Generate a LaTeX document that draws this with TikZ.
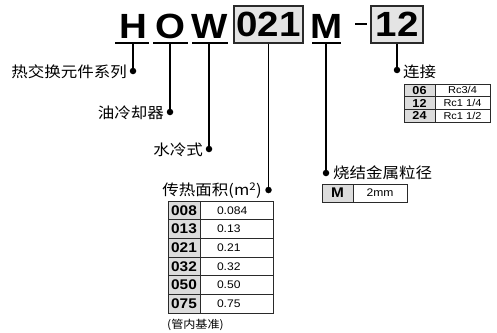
\documentclass[tikz,border=0pt]{standalone}
\usepackage{fontspec}
\setmainfont[FakeStretch=1.1]{Liberation Sans}
\newfontfamily\cjk[FakeStretch=1.1]{Noto Sans CJK SC}
\definecolor{boxgray}{HTML}{E4E4E4}
\definecolor{cellgray}{HTML}{DCDCDC}
\definecolor{edge}{HTML}{2A2A2A}
\begin{document}
\begin{tikzpicture}[x=1pt,y=-1pt,
  big/.style={font=\fontsize{35}{35}\selectfont\bfseries, inner sep=0pt},
  hdrbox/.style={draw=edge, line width=1.1pt, fill=boxgray, minimum height=37pt, inner sep=0pt, font=\fontsize{35}{35}\selectfont\bfseries},
  uline/.style={line width=1.3pt},
  conn/.style={line width=1.2pt},
  dotmark/.style={circle, fill=black, inner sep=0pt, minimum size=6.5pt},
  lab/.style={font=\cjk\fontsize{15}{17}\selectfont, inner sep=0pt},
  tcode/.style={draw=edge, fill=cellgray, line width=0.8pt, inner sep=0pt},
  tval/.style={draw=edge, line width=0.8pt, inner sep=0pt}
]
\useasboundingbox (0,0) rectangle (497,332);

% header letters
\node[big, anchor=base] (H) at (133.5,38) {H};
\node[big, anchor=base] (O) at (170,38) {O};
\node[big, anchor=base] (W) at (210,38) {W};
\node[hdrbox, minimum width=69pt] (c021) at (268.5,24.5) {021};
\node[big, anchor=base] (M) at (326.5,38) {M};
\node[inner sep=0pt] (dash) at (361,24) {\rule{12pt}{2.6pt}};
\node[hdrbox, minimum width=52pt] (c12) at (397,24.5) {12};

% underlines
\draw[uline] (115,43) -- (149,43);
\draw[uline] (153,43) -- (188,43);
\draw[uline] (192,43) -- (228,43);
\draw[uline] (312,43) -- (341,43);

% tick tops
\coordinate (Ht) at (133,43);
\coordinate (Ot) at (170,43);
\coordinate (Wt) at (209,43);
\coordinate (Mt) at (326,43);

% dots
\node[dotmark] (Hd) at (133,71) {};
\node[dotmark] (Od) at (170,112) {};
\node[dotmark] (Wd) at (209,149) {};
\node[dotmark] (Ad) at (268.5,190) {};
\node[dotmark] (Md) at (326,173) {};
\node[dotmark] (Cd) at (397,70) {};

% connectors
\draw[conn] (Ht) -- (Hd.center);
\draw[conn] (Ot) -- (Od.center);
\draw[conn] (Wt) -- (Wd.center);
\draw[conn] (c021.south) -- (Ad.center);
\draw[conn] (Mt) -- (Md.center);
\draw[conn] (c12.south) -- (Cd.center);

% labels
\node[lab, anchor=east] (lH) at (127,72) {热交换元件系列};
\node[lab, anchor=east] (lO) at (164,113) {油冷却器};
\node[lab, anchor=east] (lW) at (203,150) {水冷式};
\node[lab, anchor=east] (lA) at (262,191) {传热面积(m\textsuperscript{2})};
\node[lab, anchor=west] (lM) at (333,173) {烧结金属粒径};
\node[lab, anchor=west] (lC) at (403,72) {连接};

% heat transfer area table
\foreach \c/\v [count=\i from 0] in {008/0.084,013/0.13,021/0.21,032/0.32,050/0.50,075/0.75}{
  \node[tcode, minimum width=32pt, minimum height=18.67pt, font=\fontsize{14}{14}\selectfont\bfseries] (a\c) at (184,210.33+\i*18.67) {\c};
  \node[tval, minimum width=73pt, minimum height=18.67pt, text width=39pt, inner xsep=17pt, align=left, font=\fontsize{11}{11}\selectfont] (b\c) at (236.5,210.33+\i*18.67) {\v};
}
\node[font=\cjk\fontsize{11}{12}\selectfont, inner sep=0pt, anchor=west] (note) at (167,325) {(管内基准)};

% sintered metal table
\node[tcode, minimum width=31pt, minimum height=18pt, font=\fontsize{14}{14}\selectfont\bfseries] (mM) at (337.5,193) {M};
\node[tval, minimum width=54pt, minimum height=18pt, font=\fontsize{11}{11}\selectfont] (m2) at (380,193) {2mm};

% connection table
\foreach \c/\v [count=\i from 0] in {06/Rc3\slash4,12/Rc1 1\slash4,24/Rc1 1\slash2}{
  \node[tcode, minimum width=31pt, minimum height=12.7pt, font=\fontsize{11.5}{11.5}\selectfont\bfseries] (p\c) at (419.5,90.35+\i*12.7) {\c};
  \node[tval, minimum width=55pt, minimum height=12.7pt, font=\fontsize{10}{10}\selectfont] (q\c) at (462.5,90.35+\i*12.7) {\v};
}
\end{tikzpicture}
\end{document}
